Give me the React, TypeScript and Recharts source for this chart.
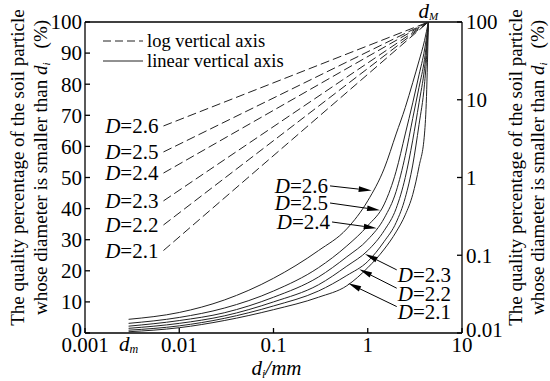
import { LineChart, Line, XAxis, YAxis, ReferenceLine, ReferenceDot, Legend } from "recharts";

const FONT = "'Liberation Serif', 'Times New Roman', serif";

const D_LABELS = ["2.6", "2.5", "2.4", "2.3", "2.2", "2.1"];

// particle sizes (mm) where the solid curves were read
const SIZES = [0.0029, 0.01, 0.03, 0.1, 0.3, 0.6, 1, 1.5, 2, 2.5, 3, 3.5, 4, 4.2, 4.4];
const LIN_26 = [4.4, 6.6, 10.6, 17.6, 26.5, 33.5, 42.5, 53, 64, 72.5, 80.5, 87.5, 94, 97, 100];
const LIN_25 = [3.1, 5.0, 8.0, 13.5, 21, 28, 34.5, 41.5, 52, 64, 74, 83, 91, 95, 100];
const LIN_24 = [2.2, 4.0, 6.5, 11.5, 18, 24.5, 30, 37, 45.5, 57, 69, 79, 88, 93, 100];
const LIN_23 = [1.5, 3.1, 5.5, 10, 15.5, 21.5, 26.5, 33, 40, 50, 62, 74, 85, 91, 100];
const LIN_22 = [0.9, 2.3, 4.7, 8.7, 13.5, 18.5, 23, 29.5, 35.5, 43.5, 54, 67, 80, 88, 100];
const LIN_21 = [0.4, 1.7, 4.0, 7.5, 11.5, 15.2, 21, 27, 32.5, 38, 44.5, 53.5, 64, 76, 100];
const LINEAR = [LIN_26, LIN_25, LIN_24, LIN_23, LIN_22, LIN_21];

// dashed (log axis) lines: start value at LOG_START_SIZE, all end at (DMAX_SIZE, 100)
const DM_SIZE = 0.0029;
const DMAX_SIZE = 4.4;
const LOG_START_SIZE = 0.0068;
const LOG_START_PCT = [4.6, 2.13, 1.14, 0.5, 0.245, 0.115];

// label arrows (size, percent on linear axis)
const ARROW_FROM = [[0.398, 47.3], [0.398, 41.8], [0.418, 35.7], [2.03, 20.3], [2.03, 14.4], [2.03, 8.5]];
const ARROW_TO = [[1.1, 45.8], [1.35, 39.5], [1.245, 33.7], [0.935, 25.4], [0.813, 20.5], [0.622, 16.0]];

const X_TICKS = [0.001, DM_SIZE, 0.01, 0.1, 1, 10];
const LEFT_TICKS = [0, 10, 20, 30, 40, 50, 60, 70, 80, 90, 100];
const RIGHT_TICKS = [0.01, 0.1, 1, 10, 100];

const linData = (vals: number[]) => SIZES.map((x, i) => ({ x, y: vals[i] }));
const logData = (p0: number) => [{ x: LOG_START_SIZE, y: p0 }, { x: DMAX_SIZE, y: 100 }];

const XTick = (p: any) => {
  const { x, y } = p;
  const v = p.payload.value;
  if (v === DM_SIZE) {
    return (
      <text x={x} y={y + 18} textAnchor="middle" fontSize={21} fontStyle="italic" fontFamily={FONT} fill="#000">
        d<tspan fontSize={12} dy={2}>m</tspan>
      </text>
    );
  }
  return (
    <g>
      <line x1={x} y1={y} x2={x} y2={y - 5} stroke="#000" strokeWidth={1.3} />
      <text x={x} y={y + 19} textAnchor="middle" fontSize={21} fontFamily={FONT} fill="#000">{v}</text>
    </g>
  );
};

const LeftTick = (p: any) => (
  <g>
    <line x1={p.x} y1={p.y} x2={p.x + 5} y2={p.y} stroke="#000" strokeWidth={1.3} />
    <text x={p.x - 3} y={p.y} dy={p.payload.value === 0 ? "0.2em" : "0.35em"} textAnchor="end" fontSize={21} fontFamily={FONT} fill="#000">
      {p.payload.value}
    </text>
  </g>
);

const RightTick = (p: any) => (
  <g>
    <line x1={p.x} y1={p.y} x2={p.x - 5} y2={p.y} stroke="#000" strokeWidth={1.3} />
    <text x={p.x + 4} y={p.y} dy={p.payload.value === 0.01 ? "0.2em" : "0.35em"} textAnchor="start" fontSize={21} fontFamily={FONT} fill="#000">
      {p.payload.value}
    </text>
  </g>
);

const YTitle = (cx1: number, cx2: number) => (props: any) => {
  const vb = props.viewBox;
  const cy = vb.y + vb.height / 2 - 10;
  return (
    <g fontFamily={FONT} fontSize={19} fill="#000">
      <text transform={`translate(${vb.x + cx1},${cy}) rotate(-90)`} textAnchor="middle" dy="0.35em">
        The quality percentage of the soil particle
      </text>
      <text transform={`translate(${vb.x + cx2},${cy}) rotate(-90)`} textAnchor="middle" dy="0.35em">
        whose diameter is smaller than <tspan fontStyle="italic">d</tspan>
        <tspan fontStyle="italic" fontSize={11} dy={3}>i</tspan>
        <tspan dy={-3} dx={14}>(%)</tspan>
      </text>
    </g>
  );
};

const XTitle = (props: any) => {
  const vb = props.viewBox;
  return (
    <text x={vb.x + vb.width / 2 + 3} y={vb.y + 42} textAnchor="middle" fontFamily={FONT} fontSize={21} fontStyle="italic" fill="#000">
      d<tspan fontSize={12} dy={3}>i</tspan><tspan dy={-3}>/mm</tspan>
    </text>
  );
};

const DLabel = ({ d }: { d: string }) => (
  <>
    <tspan fontStyle="italic">D</tspan>={d}
  </>
);

const arrowShape = (k: number) => (p: any) => {
  const { x1, y1, x2, y2 } = p;
  const a = Math.atan2(y2 - y1, x2 - x1);
  const len = 13;
  const w = 2.8;
  const bx = x2 - len * Math.cos(a);
  const by = y2 - len * Math.sin(a);
  const pts = `${x2},${y2} ${bx - w * Math.sin(a)},${by + w * Math.cos(a)} ${bx + w * Math.sin(a)},${by - w * Math.cos(a)}`;
  const left = k < 3;
  return (
    <g>
      <line x1={x1} y1={y1} x2={bx} y2={by} stroke="#000" strokeWidth={1} />
      <polygon points={pts} fill="#000" />
      <text
        x={left ? x1 - 2 : x1 + 1}
        y={left ? y1 : y1 + 5}
        dy="0.35em"
        textAnchor={left ? "end" : "start"}
        fontFamily={FONT}
        fontSize={21}
        fill="#000"
      >
        <DLabel d={D_LABELS[k]} />
      </text>
    </g>
  );
};

const logDot = (k: number) => (p: any) => {
  if (p.index !== 0) return <g key={`ld${k}-${p.index}`} />;
  return (
    <text key={`ld${k}-0`} x={p.cx - 5} y={p.cy} dy="0.35em" textAnchor="end" fontFamily={FONT} fontSize={21} fill="#000">
      <DLabel d={D_LABELS[k]} />
    </text>
  );
};

const LEGEND_ITEMS = [
  { name: "log vertical axis", dash: "8 4" },
  { name: "linear vertical axis", dash: "" },
];

const renderLegend = () => (
  <div style={{ fontFamily: FONT, fontSize: 18.5, color: "#000", lineHeight: "20px" }}>
    {LEGEND_ITEMS.map((it) => (
      <div key={it.name} style={{ display: "flex", alignItems: "center", height: 20 }}>
        <svg width={42} height={10} style={{ marginRight: 2 }}>
          <line x1={0} y1={5} x2={40} y2={5} stroke="#222" strokeWidth={1} strokeDasharray={it.dash || undefined} />
        </svg>
        <span>{it.name}</span>
      </div>
    ))}
  </div>
);

export default function App() {
  return (
    <div style={{ position: "absolute", left: 0, top: 0, width: 550, height: 381, background: "#fff" }}>
      <LineChart width={550} height={381} margin={{ top: 22, right: 0, bottom: 0, left: 0 }}>
        <XAxis
          dataKey="x"
          type="number"
          scale="log"
          domain={[0.001, 10]}
          ticks={X_TICKS}
          interval={0}
          allowDataOverflow
          height={48}
          tickSize={0}
          tickMargin={0}
          tickLine={false}
          tick={XTick}
          axisLine={{ stroke: "#000", strokeWidth: 1.3 }}
          label={XTitle}
        />
        <YAxis
          yAxisId="left"
          type="number"
          domain={[0, 100]}
          ticks={LEFT_TICKS}
          interval={0}
          allowDataOverflow
          width={85}
          tickSize={0}
          tickMargin={0}
          tickLine={false}
          tick={LeftTick}
          axisLine={{ stroke: "#000", strokeWidth: 1.3 }}
          label={YTitle(17, 40)}
        />
        <YAxis
          yAxisId="right"
          orientation="right"
          type="number"
          scale="log"
          domain={[0.01, 100]}
          ticks={RIGHT_TICKS}
          interval={0}
          allowDataOverflow
          width={88}
          tickSize={0}
          tickMargin={0}
          tickLine={false}
          tick={RightTick}
          axisLine={{ stroke: "#000", strokeWidth: 1.3 }}
          label={YTitle(53, 75)}
        />
        <ReferenceLine yAxisId="left" y={100} stroke="#000" strokeWidth={1.3} />
        {LINEAR.map((vals, k) => (
          <Line
            key={`lin${k}`}
            yAxisId="left"
            data={linData(vals)}
            dataKey="y"
            type="monotone"
            stroke="#222"
            strokeWidth={1}
            dot={false}
            isAnimationActive={false}
          />
        ))}
        {LOG_START_PCT.map((p0, k) => (
          <Line
            key={`log${k}`}
            yAxisId="right"
            data={logData(p0)}
            dataKey="y"
            type="linear"
            stroke="#222"
            strokeWidth={1}
            strokeDasharray="9 4"
            dot={logDot(k)}
            isAnimationActive={false}
          />
        ))}
        {ARROW_FROM.map((from, k) => (
          <ReferenceLine
            key={`arr${k}`}
            yAxisId="left"
            segment={[
              { x: from[0], y: from[1] },
              { x: ARROW_TO[k][0], y: ARROW_TO[k][1] },
            ]}
            shape={arrowShape(k)}
          />
        ))}
        <ReferenceDot
          yAxisId="left"
          x={DMAX_SIZE}
          y={100}
          r={0}
          shape={(p: any) => (
            <text x={p.cx} y={p.cy - 4} textAnchor="middle" fontFamily={FONT} fontSize={21} fontStyle="italic" fill="#000">
              d<tspan fontSize={11} dy={2}>M</tspan>
            </text>
          )}
        />
        <Legend
          layout="horizontal"
          verticalAlign="middle"
          align="center"
          content={renderLegend}
          wrapperStyle={{ position: "absolute", left: 103, top: 31, width: "auto" }}
        />
      </LineChart>
    </div>
  );
}
